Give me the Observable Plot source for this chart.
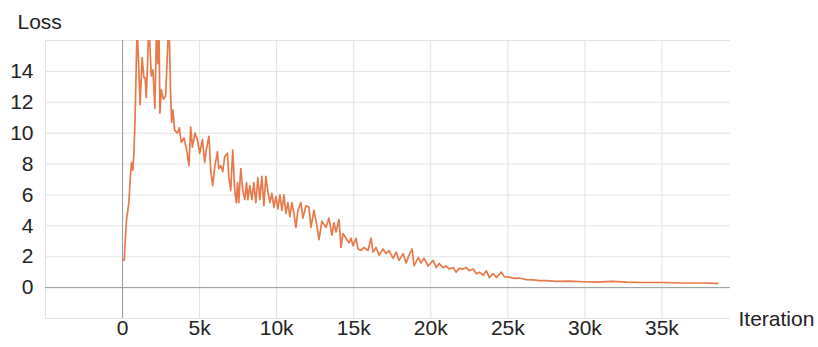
<!DOCTYPE html>
<html>
<head>
<meta charset="utf-8">
<script src="https://cdn.jsdelivr.net/npm/d3@7"></script>
<script src="https://cdn.jsdelivr.net/npm/@observablehq/plot@0.6"></script>
<style>
  html, body { margin: 0; padding: 0; background: #fff; }
  #chart svg { display: block; }
</style>
</head>
<body>
<div id="chart"></div>
<script>
const iterations = [
  50, 110, 200, 260, 410, 520, 585, 670, 735, 815, 945, 1140, 1270, 1385, 1465, 1540,
  1710, 1865, 1970, 2100, 2210, 2290, 2360, 2425, 2515, 2645, 2795, 3010, 3120, 3185,
  3270, 3380, 3555, 3685, 3815, 3985, 4160, 4310, 4420, 4530, 4700, 4855, 5005, 5185,
  5330, 5430, 5610, 5720, 5850, 5980, 6160, 6240, 6370, 6500, 6630, 6810, 6890, 7020,
  7150, 7280, 7380, 7460, 7540, 7670, 7800, 7930, 8045, 8130, 8260, 8390, 8520, 8650,
  8780, 8910, 9040, 9170, 9300, 9430, 9560, 9690, 9820, 9950, 10080, 10210, 10340,
  10470, 10600, 10730, 10860, 10990, 11120, 11250, 11380, 11575, 11705, 11900, 12095,
  12225, 12420, 12615, 12745, 12940, 13200, 13395, 13590, 13720, 13850, 14045, 14175,
  14305, 14500, 14695, 14825, 14955, 15150, 15280, 15475, 15670, 15930, 16125, 16255,
  16450, 16645, 16905, 17100, 17295, 17555, 17750, 17945, 18205, 18400, 18595, 18790,
  18920, 19180, 19375, 19570, 19830, 20155, 20350, 20545, 20805, 21000, 21195, 21455,
  21650, 21845, 22105, 22300, 22500, 22760, 22955, 23150, 23410, 23605, 23800, 24060,
  24255, 24580, 24775, 25100, 25425, 25750, 26205, 26660, 27050, 27505, 28155, 29000,
  29910, 30755, 31730, 32705, 33680, 34980, 36280, 37580, 38620
];
const loss = [
  1.76, 1.8, 3.5, 4.4, 5.5, 7.4, 8.1, 7.6, 8.7, 11, 17, 11.85, 14.9, 13.6, 13.6, 12.3,
  17, 13.7, 14.1, 11.6, 17, 14.5, 17, 11.3, 12.8, 12.2, 12.4, 17.5, 12.5, 10.7,
  11.5, 10.2, 10.0, 10.35, 9.4, 9.7, 8.9, 7.9, 10.4, 9.1, 10, 9.6, 8.7, 9.6,
  8.1, 8.9, 9.8, 7.6, 6.6, 7.8, 8.8, 7.7, 7.9, 7.5, 8.5, 8.7, 7.2, 6.3,
  8.9, 6.3, 5.5, 6.8, 5.5, 7.7, 6.3, 5.7, 6.8, 5.7, 6.6, 5.7, 6.8, 5.5,
  7.1, 5.7, 7.2, 5.3, 7.2, 6.2, 5.5, 6.1, 5.2, 5.9, 5.1, 6.0, 5.0,
  6.0, 4.8, 5.5, 4.6, 5.5, 4.8, 3.9, 5.0, 5.5, 4.5, 5.3, 5.2,
  3.9, 5.0, 4.0, 3.1, 4.3, 3.9, 4.5, 3.4, 4.2, 3.6, 4.4, 2.6,
  3.5, 3.2, 2.9, 3.2, 2.7, 3.2, 2.5, 2.4, 2.6, 2.4, 3.2, 2.3,
  2.6, 2.1, 2.5, 2.2, 2.4, 1.9, 2.3, 1.76, 2.2, 1.6, 2.1, 2.5,
  1.4, 1.95, 1.6, 1.9, 1.4, 1.76, 1.3, 1.56, 1.3, 1.4, 1.2, 1.3,
  1.0, 1.25, 1.2, 1.3, 1.1, 1.2, 0.9, 1.0, 0.8, 1.1, 0.65, 0.9,
  0.65, 1.0, 0.7, 0.68, 0.6, 0.62, 0.52, 0.5, 0.45, 0.45, 0.4, 0.42,
  0.38, 0.35, 0.4, 0.35, 0.33, 0.33, 0.3, 0.3, 0.28
];
const xTicks = [0, 5000, 10000, 15000, 20000, 25000, 30000, 35000];
const xGrid = [-5000, 0, 5000, 10000, 15000, 20000, 25000, 30000, 35000];
const yTicks = [0, 2, 4, 6, 8, 10, 12, 14];
const yGrid = [-2, 0, 2, 4, 6, 8, 10, 12, 14, 16];
const yLabel = "Loss";
const xLabel = "Iteration";

const data = iterations.map((it, i) => ({iteration: it, loss: loss[i]}));
const fmt = d => d === 0 ? "0" : (d / 1000) + "k";
const font = "'Liberation Sans', Arial, sans-serif";

const chart = Plot.plot({
  width: 818,
  height: 347,
  marginLeft: 45,
  marginRight: 88,
  marginTop: 40,
  marginBottom: 29,
  style: {fontFamily: font, fontSize: "21px", color: "#222", background: "#fff", overflow: "visible"},
  x: {domain: [-5000, 39450]},
  y: {domain: [-2, 16]},
  marks: [
    Plot.ruleX(xGrid, {stroke: "#e3e3e3", strokeWidth: 1}),
    Plot.ruleY(yGrid, {stroke: "#e3e3e3", strokeWidth: 1}),
    Plot.ruleX([0], {stroke: "#9a9a9a", strokeWidth: 1}),
    Plot.ruleY([0], {stroke: "#9a9a9a", strokeWidth: 1}),
    Plot.axisY(yTicks, {tickSize: 0, tickPadding: 12, label: null, fontSize: 21, fill: "#222"}),
    Plot.axisX(xTicks, {tickSize: 0, tickPadding: 2, label: null, tickFormat: fmt, fontSize: 21, fill: "#222"}),
    Plot.lineY(data, {x: "iteration", y: "loss", stroke: "#e8794a", strokeWidth: 1.7, clip: true}),
    Plot.text([yLabel], {frameAnchor: "top-left", dx: -28, dy: -12, textAnchor: "start", lineAnchor: "bottom", fontSize: 21, fill: "#222"}),
    Plot.text([xLabel], {frameAnchor: "bottom-right", dx: 8, dy: 7, textAnchor: "start", lineAnchor: "bottom", fontSize: 21, fill: "#222"})
  ]
});
document.getElementById("chart").appendChild(chart);
</script>
</body>
</html>
